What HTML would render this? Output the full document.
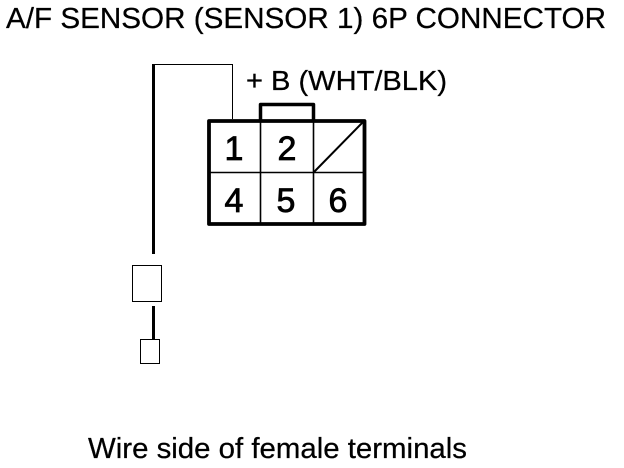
<!DOCTYPE html>
<html>
<head>
<meta charset="utf-8">
<style>
html,body{margin:0;padding:0;background:#fff;width:624px;height:468px;overflow:hidden}
svg{display:block}
text{font-family:"Liberation Sans",sans-serif;fill:#000}
</style>
</head>
<body>
<svg width="624" height="468" viewBox="0 0 624 468" xmlns="http://www.w3.org/2000/svg">
<rect width="624" height="468" fill="#fff"/>
<g stroke="#000" stroke-width="0.25">
<text x="6" y="28" font-size="29" textLength="600" lengthAdjust="spacingAndGlyphs">A/F SENSOR (SENSOR 1) 6P CONNECTOR</text>
<text x="246" y="90" font-size="27.5" textLength="201" lengthAdjust="spacingAndGlyphs">+ B (WHT/BLK)</text>
<text x="88" y="458" font-size="28.5" textLength="379" lengthAdjust="spacingAndGlyphs">Wire side of female terminals</text>
</g>

<g fill="none" stroke="#000" shape-rendering="crispEdges">
  <path d="M153.5 254V64" stroke-width="3"/>
  <path d="M152 64.5H232.5V119" stroke-width="1"/>
  <path d="M153.5 306V340" stroke-width="3"/>
  <rect x="132.5" y="265.5" width="29" height="36" stroke-width="1"/>
  <rect x="140.5" y="339.5" width="19" height="24" stroke-width="1"/>
</g>
<g fill="none" stroke="#000" stroke-linejoin="round">
  <path d="M260.5 120V104.5H313.5V120" stroke-width="3.5"/>
  <rect x="209" y="121" width="155.5" height="103" stroke-width="3.8"/>
  <path d="M260.5 120V224M313.5 120V224M208 172.5H365" stroke-width="1.6"/>
  <path d="M314 172L363 122" stroke-width="2"/>
</g>

<g font-size="34" text-anchor="middle" stroke="#000" stroke-width="0.8">
  <text x="234" y="160">1</text>
  <text x="287" y="160">2</text>
  <text x="234" y="212">4</text>
  <text x="286" y="212">5</text>
  <text x="338" y="212">6</text>
</g>
</svg>
</body>
</html>
